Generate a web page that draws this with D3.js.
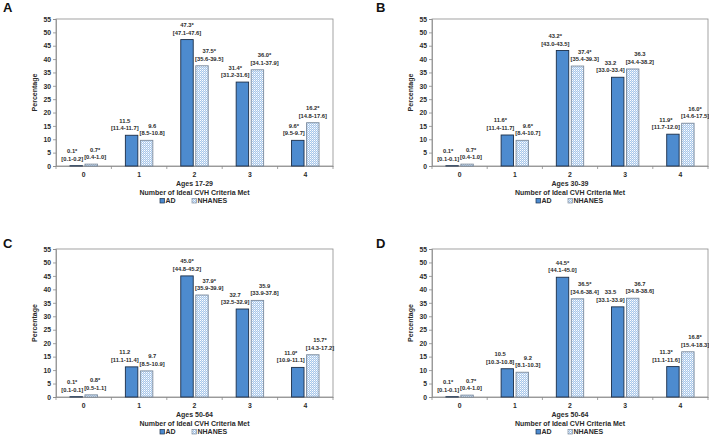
<!DOCTYPE html>
<html><head><meta charset="utf-8">
<script src="https://cdn.jsdelivr.net/npm/d3@7"></script>
<style>
html,body{margin:0;padding:0;background:#fff;}
text{font-family:"Liberation Sans",Arial,sans-serif;}
</style></head>
<body><svg id="c" width="709" height="438"></svg>
<script>
const categories = ["0","1","2","3","4"];
const seriesNames = ["AD","NHANES"];
const yTicks = [0,5,10,15,20,25,30,35,40,45,50,55];
const panelLetters = ["A","B","C","D"];
const panelAges = ["Ages 17-29","Ages 30-39","Ages 50-64","Ages 50-64"];
const xTitle = "Number of Ideal CVH Criteria Met";
const yTitle = "Percentage";

const adA = [0.1, 11.5, 47.3, 31.4, 9.6];
const adA_lab = ["0.1*","11.5","47.3*","31.4*","9.6*"];
const adA_ci = ["[0.1-0.2]","[11.4-11.7]","[47.1-47.6]","[31.2-31.6]","[9.5-9.7]"];
const nhA = [0.7, 9.6, 37.5, 36.0, 16.2];
const nhA_lab = ["0.7*","9.6","37.5*","36.0*","16.2*"];
const nhA_ci = ["[0.4-1.0]","[8.5-10.8]","[35.6-39.5]","[34.1-37.9]","[14.8-17.6]"];

const adB = [0.1, 11.6, 43.2, 33.2, 11.9];
const adB_lab = ["0.1*","11.6*","43.2*","33.2","11.9*"];
const adB_ci = ["[0.1-0.1]","[11.4-11.7]","[43.0-43.5]","[33.0-33.4]","[11.7-12.0]"];
const nhB = [0.7, 9.6, 37.4, 36.3, 16.0];
const nhB_lab = ["0.7*","9.6*","37.4*","36.3","16.0*"];
const nhB_ci = ["[0.4-1.0]","[8.4-10.7]","[35.4-39.3]","[34.4-38.2]","[14.6-17.5]"];

const adC = [0.1, 11.2, 45.0, 32.7, 11.0];
const adC_lab = ["0.1*","11.2","45.0*","32.7","11.0*"];
const adC_ci = ["[0.1-0.1]","[11.1-11.4]","[44.8-45.2]","[32.5-32.9]","[10.9-11.1]"];
const nhC = [0.8, 9.7, 37.9, 35.9, 15.7];
const nhC_lab = ["0.8*","9.7","37.9*","35.9","15.7*"];
const nhC_ci = ["[0.5-1.1]","[8.5-10.9]","[35.9-39.9]","[33.9-37.8]","[14.3-17.2]"];

const adD = [0.1, 10.5, 44.5, 33.5, 11.3];
const adD_lab = ["0.1*","10.5","44.5*","33.5","11.3*"];
const adD_ci = ["[0.1-0.1]","[10.3-10.8]","[44.1-45.0]","[33.1-33.9]","[11.1-11.6]"];
const nhD = [0.7, 9.2, 36.5, 36.7, 16.8];
const nhD_lab = ["0.7*","9.2","36.5*","36.7","16.8*"];
const nhD_ci = ["[0.4-1.0]","[8.1-10.3]","[34.6-38.4]","[34.8-38.6]","[15.4-18.3]"];

const panelsData = [
  {ad:adA, adL:adA_lab, adC:adA_ci, nh:nhA, nhL:nhA_lab, nhC:nhA_ci},
  {ad:adB, adL:adB_lab, adC:adB_ci, nh:nhB, nhL:nhB_lab, nhC:nhB_ci},
  {ad:adC, adL:adC_lab, adC:adC_ci, nh:nhC, nhL:nhC_lab, nhC:nhC_ci},
  {ad:adD, adL:adD_lab, adC:adD_ci, nh:nhD, nhL:nhD_lab, nhC:nhD_ci}
];

const svg = d3.select("#c");
const defs = svg.append("defs");
const pat = defs.append("pattern").attr("id","dots").attr("patternUnits","userSpaceOnUse")
  .attr("width",2).attr("height",2);
pat.append("rect").attr("width",2).attr("height",2).attr("fill","#a8c7ea");
pat.append("rect").attr("width",1).attr("height",1).attr("fill","#ffffff");
pat.append("rect").attr("x",1).attr("y",1).attr("width",1).attr("height",1).attr("fill","#d6e5f6");

const AD_FILL = "#4d8bcf", AD_STROKE = "#1b2e48";
const NH_STROKE = "#7b8a9c";
const TXT = "#2a2a2a", AXIS = "#8c8c8c";

const layout = [
  {left:56, right:333, top:19, bottom:166, letterX:3, letterY:12},
  {left:432, right:708, top:19, bottom:166, letterX:376, letterY:12},
  {left:56, right:333, top:249, bottom:397, letterX:3, letterY:248},
  {left:432, right:708, top:249, bottom:397, letterX:376, letterY:248}
];

layout.forEach((L, pi) => {
  const d = panelsData[pi];
  const g = svg.append("g");
  const x0 = d3.scaleBand().domain(categories).range([L.left, L.right]).padding(0);
  const x1 = d3.scaleBand().domain(seriesNames).range([0, x0.bandwidth()])
    .paddingInner(0.17).paddingOuter(0.93);
  const y = d3.scaleLinear().domain([0,55]).range([L.bottom, L.top]);

  g.append("text").attr("x",L.letterX).attr("y",L.letterY)
    .attr("font-size",13).attr("font-weight","bold").attr("fill","#111").text(panelLetters[pi]);

  g.append("rect").attr("x",L.left).attr("y",L.top).attr("width",L.right-L.left)
    .attr("height",L.bottom-L.top).attr("fill","none").attr("stroke",AXIS).attr("stroke-width",0.8);

  const ya = g.append("g").attr("transform",`translate(${L.left},0)`)
    .call(d3.axisLeft(y).tickValues(yTicks).tickSize(3).tickPadding(2));
  ya.select(".domain").attr("stroke",AXIS).attr("stroke-width",0.8);
  ya.selectAll(".tick line").attr("stroke",AXIS).attr("stroke-width",0.8);
  ya.selectAll(".tick text").attr("font-size",6.8).attr("font-weight","bold").attr("fill",TXT)
    .attr("font-family","Liberation Sans, Arial, sans-serif");

  const xa = g.append("g").attr("transform",`translate(0,${L.bottom})`)
    .call(d3.axisBottom(x0).tickSize(0).tickPadding(6));
  xa.select(".domain").attr("stroke",AXIS).attr("stroke-width",0.8);
  xa.selectAll(".tick text").attr("font-size",6.8).attr("font-weight","bold").attr("fill",TXT)
    .attr("font-family","Liberation Sans, Arial, sans-serif");
  const bounds = categories.map(c => x0(c)).concat([x0(categories[categories.length-1]) + x0.bandwidth()]);
  g.selectAll(".bt").data(bounds).enter().append("line")
    .attr("x1",b=>b).attr("x2",b=>b).attr("y1",L.bottom).attr("y2",L.bottom+3)
    .attr("stroke",AXIS).attr("stroke-width",0.8);

  const cx = (L.left + L.right)/2;
  g.append("text").attr("transform",`translate(${L.left-19},${(L.top+L.bottom)/2}) rotate(-90)`)
    .attr("text-anchor","middle").attr("font-size",7).attr("font-weight","bold").attr("fill",TXT).text(yTitle);
  g.append("text").attr("x",cx).attr("y",L.bottom+19.5).attr("text-anchor","middle")
    .attr("font-size",7).attr("font-weight","bold").attr("fill",TXT).text(panelAges[pi]);
  g.append("text").attr("x",cx).attr("y",L.bottom+28.5).attr("text-anchor","middle")
    .attr("font-size",7).attr("font-weight","bold").attr("fill",TXT).text(xTitle);

  const ly = L.bottom + 36;
  g.append("rect").attr("x",L.left+104).attr("y",ly-3.5).attr("width",4.5).attr("height",4.5)
    .attr("fill",AD_FILL).attr("stroke",AD_STROKE).attr("stroke-width",0.7);
  g.append("text").attr("x",L.left+109.5).attr("y",ly+1).attr("font-size",7).attr("font-weight","bold")
    .attr("fill",TXT).text(seriesNames[0]);
  g.append("rect").attr("x",L.left+136).attr("y",ly-3.5).attr("width",4.5).attr("height",4.5)
    .attr("fill","url(#dots)").attr("stroke",NH_STROKE).attr("stroke-width",0.7);
  g.append("text").attr("x",L.left+141.5).attr("y",ly+1).attr("font-size",7).attr("font-weight","bold")
    .attr("fill",TXT).text(seriesNames[1]);

  const rows = categories.map((c,i) => ({c, i, ad:d.ad[i], nh:d.nh[i]}));
  rows.forEach(r => {
    const xa0 = x0(r.c) + x1("AD"), xn0 = x0(r.c) + x1("NHANES"), bw = x1.bandwidth();
    g.append("rect").attr("x",xa0).attr("y",y(r.ad)).attr("width",bw).attr("height",y(0)-y(r.ad))
      .attr("fill",AD_FILL).attr("stroke",AD_STROKE).attr("stroke-width",0.9);
    g.append("rect").attr("x",xn0).attr("y",y(r.nh)).attr("width",bw).attr("height",y(0)-y(r.nh))
      .attr("fill","url(#dots)").attr("stroke",NH_STROKE).attr("stroke-width",0.9);

    const gap = (xa0 + bw + xn0)/2;
    const mk = (val, lab, ci) => {
      const lg = g.append("g");
      const t1 = lg.append("text").attr("y",y(val)-12.5).attr("text-anchor","middle")
        .attr("font-size",5.8).attr("font-weight","bold").attr("fill",TXT).text(lab);
      const t2 = lg.append("text").attr("y",y(val)-5).attr("text-anchor","middle")
        .attr("font-size",5.8).attr("font-weight","bold").attr("fill",TXT).text(ci);
      const w = Math.max(t1.node().getComputedTextLength(), t2.node().getComputedTextLength());
      return {lg, w};
    };
    const la = mk(r.ad, d.adL[r.i], d.adC[r.i]);
    const ln = mk(r.nh, d.nhL[r.i], d.nhC[r.i]);
    const close = Math.abs(y(r.ad) - y(r.nh)) < 16;
    const adLower = r.ad < r.nh;
    let xA = xa0 + bw/2, xN = xn0 + bw/2;
    if (adLower || close) xA = Math.min(xA, gap - 0.5 - la.w/2);
    if (!adLower || close) xN = Math.max(xN, gap + 0.5 + ln.w/2);
    la.lg.selectAll("text").attr("x",xA);
    ln.lg.selectAll("text").attr("x",xN);
  });
});
</script></body></html>
